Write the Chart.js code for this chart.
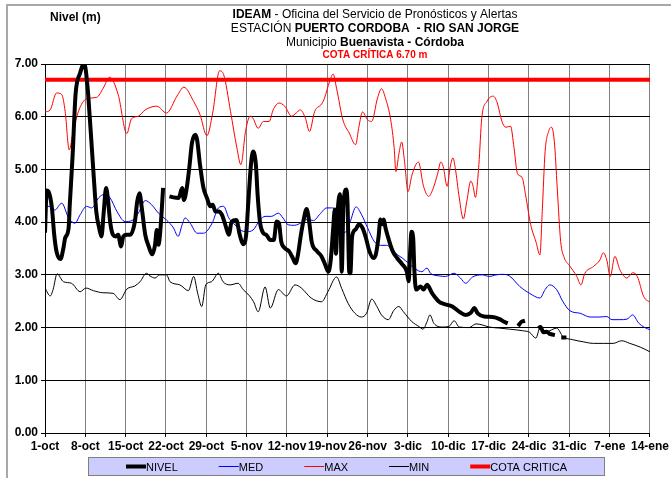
<!DOCTYPE html>
<html>
<head>
<meta charset="utf-8">
<script src="https://cdn.jsdelivr.net/npm/chart.js@4/dist/chart.umd.min.js"></script>
<style>
  html, body { margin: 0; padding: 0; background: #fff; }
  canvas { display: block; }
</style>
</head>
<body>
<canvas id="grafica" width="671" height="478"></canvas>
<script>
// Etiquetas semanales del eje X (día 0 = 1-oct)
const fechas = ['1-oct','8-oct','15-oct','22-oct','29-oct','5-nov','12-nov','19-nov','26-nov',
                '3-dic','10-dic','17-dic','24-dic','31-dic','7-ene','14-ene'];

// Cota crítica de la estación (m)
const cotaCritica = 6.70;

// Nivel observado [día, m]; null = sin registro
const nivel = [
  [0,3.80],[0.3,4.60],[0.6,4.58],[1.2,4.27],[1.6,3.76],[2.0,3.44],[2.7,3.30],[3.2,3.51],[3.5,3.70],
  [4.1,3.89],[4.3,4.33],[4.8,5.28],[5.3,6.42],[6.1,6.83],[6.7,6.99],[6.95,6.96],[7.4,6.54],[7.9,5.78],
  [8.4,4.96],[8.9,4.20],[9.4,3.89],[9.8,3.73],[10.2,4.20],[10.6,4.65],[10.9,4.46],[11.3,4.01],
  [11.8,3.76],[12.3,3.73],[12.7,3.76],[13.2,3.54],[13.6,3.73],[14.2,3.76],[14.8,3.76],[15.6,4.01],
  [16.0,4.39],[16.4,4.55],[16.8,4.27],[17.4,3.76],[18.0,3.54],[18.6,3.39],[19.1,3.57],[19.4,3.85],
  [19.7,3.57],[20.0,3.82],[20.5,4.65],[21.0,null],
  [21.6,4.49],[22.3,4.47],[23.2,4.46],[23.8,4.65],[24.1,4.42],[24.6,4.65],[25.1,5.09],[25.5,5.50],
  [26.1,5.66],[26.4,5.56],[26.9,5.09],[27.5,4.65],[28.1,4.46],[28.7,4.30],[29.1,4.33],[29.6,4.20],
  [30.1,4.20],[30.7,4.14],[31.3,3.95],[31.9,3.76],[32.4,4.01],[33.2,4.04],[33.8,3.76],[34.4,3.58],
  [34.9,3.75],[35.3,4.40],[35.7,5.03],[36.1,5.34],[36.6,5.09],[36.9,4.52],[37.3,4.01],[37.9,3.79],
  [38.4,3.76],[39.1,3.66],[39.7,3.66],[40.2,4.01],[40.6,3.98],[41.0,3.63],[41.6,3.51],[42.4,3.44],
  [43.0,3.32],[43.5,3.22],[43.9,3.38],[44.4,3.75],[44.9,4.05],[45.4,4.25],[45.8,4.05],[46.3,3.62],
  [47.2,3.45],[48.0,3.35],[48.6,3.20],[49.2,3.06],[49.6,3.29],[50.0,3.86],[50.3,4.24],[50.5,3.40],
  [50.8,4.20],[51.2,4.53],[51.5,3.06],[51.8,4.33],[52.3,4.62],[52.5,4.37],[52.8,3.06],[53.0,3.03],
  [53.3,3.73],[53.9,3.86],[54.5,3.96],[55.1,3.89],[55.7,3.70],[56.3,3.45],[57.0,3.32],[57.4,3.38],
  [57.9,3.73],[58.2,4.05],[58.6,3.96],[58.8,4.05],[59.1,3.89],[59.5,3.73],[60.3,3.46],[61.1,3.32],
  [62.0,3.20],[62.8,3.06],[63.1,2.88],[63.4,3.50],[63.6,3.82],[63.9,3.70],[64.1,3.10],[64.4,2.72],
  [65.2,2.78],[65.7,2.72],[66.3,2.81],[67.2,2.65],[68.4,2.49],[69.2,2.45],[70.7,2.40],[71.9,2.30],
  [73.0,2.24],[73.9,2.28],[74.5,2.37],[75.1,2.27],[76.2,2.21],[77.7,2.20],[78.9,2.16],[79.7,2.11],
  [80.3,2.08],[81.0,null],
  [82.1,2.03],[82.7,2.11],[83.3,2.13],[84.5,null],
  [85.6,1.99],[86.0,2.01],[86.5,1.91],[87.1,1.92],[87.6,1.88],[88.5,1.86],[89.0,null],
  [89.6,1.81],[90.5,1.81]
];

// Nivel medio histórico [día, m]
const med = [
  [0,4.30],[0.9,4.30],[1.7,4.23],[2.9,4.36],[4.1,4.08],[5.2,3.98],[6.1,4.14],[7.2,4.30],[8.1,4.27],
  [9.3,4.46],[10.4,4.53],[11.3,4.46],[12.5,4.20],[13.9,4.01],[15.1,4.03],[16.2,4.17],[17.4,4.41],
  [18.5,4.33],[19.7,4.17],[21.1,4.04],[22.3,3.89],[23.1,3.73],[23.8,3.95],[24.3,4.08],[25.2,3.98],
  [26.4,3.79],[27.5,3.79],[29.0,3.98],[30.1,4.27],[31.0,4.30],[31.9,4.08],[32.7,3.98],[33.9,3.85],
  [35.0,3.82],[36.1,3.85],[37.3,4.04],[38.2,4.11],[39.3,4.11],[40.5,4.17],[41.3,4.08],[42.2,3.95],
  [43.3,3.94],[44.5,3.99],[45.5,4.05],[46.6,4.03],[47.7,4.15],[48.9,4.27],[49.7,4.27],[50.9,4.18],
  [52.0,3.80],[52.9,3.99],[54.0,4.29],[54.9,4.15],[56.0,3.89],[57.1,3.64],[58.2,3.56],[59.3,3.56],
  [60.8,3.41],[62.0,3.32],[63.1,3.22],[64.3,3.11],[65.4,3.06],[66.3,3.13],[66.9,3.03],[68.4,2.98],
  [69.5,2.97],[71.0,3.03],[72.1,2.94],[73.0,2.84],[74.2,2.96],[75.9,3.00],[77.1,2.97],[78.3,3.00],
  [79.4,3.01],[80.6,2.98],[82.4,2.78],[84.1,2.65],[85.9,2.56],[86.8,2.72],[87.6,2.81],[88.8,2.72],
  [89.9,2.49],[91.1,2.32],[92.9,2.27],[94.6,2.20],[96.3,2.20],[97.5,2.21],[98.4,2.15],[99.8,2.15],
  [101.0,2.16],[102.0,2.24],[103.0,2.09],[104.1,2.00],[105.0,1.96]
];

// Nivel máximo histórico [día, m]
const max = [
  [0,6.09],[0.9,6.13],[2.0,6.45],[2.9,6.42],[3.5,6.10],[4.2,5.37],[4.9,5.72],[5.8,6.10],[7.2,6.34],
  [9.0,6.37],[10.1,6.54],[11.2,6.75],[12.7,6.42],[14.2,5.68],[15.0,5.96],[16.2,6.01],[17.4,6.13],
  [19.4,6.20],[21.1,6.07],[22.9,6.39],[24.1,6.56],[25.8,6.29],[26.9,6.04],[28.1,5.64],[29.1,6.07],
  [30.3,6.87],[31.0,6.80],[32.2,6.10],[33.3,5.41],[34.0,5.09],[34.8,5.72],[35.6,6.01],[36.1,5.97],
  [37.0,5.78],[37.9,5.91],[38.9,5.91],[39.6,6.13],[40.6,6.26],[41.6,6.20],[42.8,6.01],[43.6,6.07],
  [44.3,6.13],[45.2,5.97],[45.9,5.72],[46.8,6.10],[48.0,6.24],[48.5,6.35],[49.4,6.67],[50.0,6.81],
  [50.6,6.54],[51.7,5.94],[52.8,5.69],[53.9,5.47],[54.5,5.82],[55.1,6.09],[56.0,5.94],[56.7,5.91],
  [57.7,6.35],[58.4,6.53],[59.1,6.35],[60.0,5.94],[60.6,5.41],[60.9,4.96],[61.4,5.28],[61.9,5.52],
  [62.4,5.15],[63.0,4.58],[63.7,4.90],[64.8,5.14],[65.7,4.68],[66.6,4.49],[67.4,4.65],[68.1,4.90],
  [68.7,5.14],[69.1,5.06],[69.8,4.68],[70.3,5.03],[70.8,5.22],[71.2,5.03],[71.9,4.46],[72.6,4.06],
  [73.2,4.39],[73.9,4.78],[74.3,4.68],[74.7,4.47],[75.3,5.09],[75.8,5.97],[76.7,6.29],[77.8,6.39],
  [78.5,6.26],[79.3,5.91],[80.0,5.80],[80.8,5.82],[81.4,5.41],[82.0,4.92],[82.8,4.85],[83.4,4.52],
  [84.3,3.95],[85.2,3.63],[85.9,3.38],[86.3,4.20],[86.8,5.34],[87.4,5.72],[87.9,5.80],[88.4,5.53],
  [88.9,4.65],[89.5,3.63],[90.1,3.33],[91.0,3.18],[92.3,2.97],[93.0,2.81],[93.7,3.03],[95.2,3.16],
  [96.3,3.28],[96.9,3.42],[97.5,3.28],[98.1,2.97],[98.9,3.35],[99.8,3.09],[101.0,2.94],[102.0,3.04],
  [102.8,2.97],[103.9,2.59],[105.0,2.48]
];

// Nivel mínimo histórico [día, m]
const min = [
  [0,2.75],[0.9,2.60],[1.4,2.72],[2.1,3.02],[3.2,2.87],[4.6,2.84],[6.1,2.68],[7.1,2.75],[8.4,2.70],
  [10.1,2.66],[11.8,2.65],[13.0,2.53],[14.2,2.73],[15.6,2.79],[16.5,2.87],[17.6,3.03],[18.2,2.98],
  [19.1,2.94],[19.9,3.00],[21.1,3.00],[21.7,2.87],[23.4,2.81],[24.9,2.70],[25.8,2.97],[26.5,2.65],
  [27.2,2.40],[27.9,2.81],[28.9,2.87],[30.1,3.03],[30.9,2.87],[32.1,2.81],[33.5,2.84],[34.4,2.72],
  [35.5,2.60],[36.2,2.49],[37.0,2.30],[38.2,2.77],[39.1,2.37],[40.5,2.72],[41.9,2.60],[43.4,2.81],
  [44.5,2.75],[46.2,2.56],[48.0,2.49],[49.1,2.68],[50.6,2.96],[51.5,2.74],[52.6,2.46],[53.8,2.27],
  [54.9,2.20],[55.8,2.27],[56.7,2.54],[57.6,2.40],[58.4,2.24],[59.6,2.15],[60.5,2.32],[61.4,2.40],
  [62.2,2.30],[63.7,2.11],[64.9,2.02],[65.6,1.97],[66.3,2.11],[66.8,2.24],[67.5,2.08],[68.9,2.01],
  [70.1,2.02],[71.0,2.13],[71.9,2.01],[73.6,2.00],[74.8,2.07],[75.9,2.05],[77.1,2.01],[78.9,1.99],
  [80.6,1.97],[82.9,1.94],[84.1,1.91],[85.2,1.80],[85.9,1.99],[87.0,1.92],[88.8,1.99],[89.9,1.83],
  [91.6,1.77],[93.4,1.73],[95.2,1.70],[96.9,1.70],[98.6,1.70],[100.1,1.75],[101.5,1.70],[103.3,1.63],
  [105.0,1.54]
];

const FAM = '"Liberation Sans", Arial, Helvetica, sans-serif';
const puntos = serie => serie.map(([x, y]) => ({ x, y }));
const DIAS = (fechas.length - 1) * 7;

// Encabezado: fondo, marco y textos con tramos en negrita
const encabezado = {
  id: 'encabezado',
  beforeDraw(chart) {
    const ctx = chart.ctx;
    ctx.save();
    ctx.fillStyle = '#fff';
    ctx.fillRect(0, 0, chart.width, chart.height);
    ctx.strokeStyle = '#a8a8a8';
    ctx.lineWidth = 2;
    ctx.beginPath();
    ctx.moveTo(7, chart.height);
    ctx.lineTo(7, 5);
    ctx.lineTo(chart.width, 5);
    ctx.stroke();
    ctx.restore();
  },
  afterDraw(chart) {
    const ctx = chart.ctx;
    const lineas = [
      { y: 15, size: 12, color: '#000', segs: [['IDEAM', true], [' - Oficina del Servicio de Pronósticos y Alertas', false]] },
      { y: 29, size: 12, color: '#000', segs: [['ESTACIÓN ', false], ['PUERTO CORDOBA  - RIO SAN JORGE', true]] },
      { y: 43, size: 12, color: '#000', segs: [['Municipio ', false], ['Buenavista - Córdoba', true]] },
      { y: 55, size: 10, color: '#ff0000', segs: [['COTA CRÍTICA ' + cotaCritica.toFixed(2) + ' m', true]] }
    ];
    const cx = 375;
    ctx.save();
    ctx.textBaseline = 'middle';
    ctx.textAlign = 'left';
    lineas.forEach(l => {
      const fuentes = l.segs.map(([, b]) => (b ? 'bold ' : '') + l.size + 'px ' + FAM);
      const anchos = l.segs.map(([t], i) => { ctx.font = fuentes[i]; return ctx.measureText(t).width; });
      let x = cx - anchos.reduce((a, b) => a + b, 0) / 2;
      ctx.fillStyle = l.color;
      l.segs.forEach(([t], i) => { ctx.font = fuentes[i]; ctx.fillText(t, x, l.y); x += anchos[i]; });
    });
    ctx.font = 'bold 12px ' + FAM;
    ctx.fillStyle = '#000';
    ctx.fillText('Nivel (m)', 50, 18);
    ctx.restore();
  }
};

// Leyenda inferior en recuadro lila
const leyenda = {
  id: 'leyenda',
  afterDraw(chart) {
    const ctx = chart.ctx;
    const caja = { x: 88, y: 457, w: 517, h: 19 };
    ctx.save();
    ctx.fillStyle = '#ccccff';
    ctx.fillRect(caja.x, caja.y, caja.w, caja.h);
    ctx.strokeStyle = '#7f7f7f';
    ctx.lineWidth = 1;
    ctx.strokeRect(caja.x + 0.5, caja.y + 0.5, caja.w - 1, caja.h - 1);
    ctx.font = '11px ' + FAM;
    ctx.textBaseline = 'middle';
    ctx.textAlign = 'left';
    const muestra = 20, sep = 41;
    const items = chart.data.datasets.map(ds => ({
      label: ds.label, color: ds.borderColor, width: ds.borderWidth,
      tw: ctx.measureText(ds.label).width
    }));
    const total = items.reduce((a, it) => a + muestra + it.tw, 0) + sep * (items.length - 1);
    let x = caja.x + caja.w / 2 - total / 2;
    const yc = caja.y + caja.h / 2;
    items.forEach(it => {
      ctx.strokeStyle = it.color;
      ctx.lineWidth = it.width;
      ctx.beginPath();
      ctx.moveTo(x, yc);
      ctx.lineTo(x + muestra, yc);
      ctx.stroke();
      ctx.fillStyle = '#000';
      ctx.fillText(it.label, x + muestra, yc + 1);
      x += muestra + it.tw + sep;
    });
    ctx.restore();
  }
};

const comun = { pointRadius: 0, pointHoverRadius: 0, fill: false, cubicInterpolationMode: 'monotone', spanGaps: false };

new Chart(document.getElementById('grafica'), {
  type: 'line',
  data: {
    datasets: [
      { ...comun, label: 'NIVEL', data: puntos(nivel), borderColor: '#000000', borderWidth: 4, order: 0 },
      { ...comun, label: 'MED', data: puntos(med), borderColor: '#0000ff', borderWidth: 1, order: 2 },
      { ...comun, label: 'MAX', data: puntos(max), borderColor: '#ff0000', borderWidth: 1, order: 3 },
      { ...comun, label: 'MIN', data: puntos(min), borderColor: '#000000', borderWidth: 1, order: 4 },
      { ...comun, label: 'COTA CRITICA', data: [{ x: 0, y: cotaCritica }, { x: DIAS, y: cotaCritica }],
        borderColor: '#ff0000', borderWidth: 4, order: 1 }
    ]
  },
  options: {
    responsive: false,
    devicePixelRatio: 1,
    animation: false,
    events: [],
    layout: { padding: { top: 64, left: 0, right: 20, bottom: 23 } },
    plugins: { legend: { display: false }, title: { display: false }, tooltip: { enabled: false } },
    scales: {
      x: {
        type: 'linear', min: 0, max: DIAS,
        afterFit: s => { s.height = 22; },
        ticks: {
          stepSize: 7, autoSkip: false, maxRotation: 0, minRotation: 0, padding: 2,
          color: '#000', font: { family: FAM, size: 12, weight: 'bold' },
          callback: v => fechas[Math.round(v / 7)]
        },
        grid: { color: '#808080', lineWidth: 1, tickColor: '#000', tickLength: 4 },
        border: { color: '#000', width: 1 }
      },
      y: {
        min: 0, max: 7,
        afterFit: s => { s.width = 45; },
        ticks: {
          stepSize: 1, padding: 3, color: '#000',
          font: { family: FAM, size: 12, weight: 'bold' },
          callback: v => v.toFixed(2)
        },
        grid: { color: '#000', lineWidth: 1, tickColor: '#000', tickLength: 4 },
        border: { color: '#000', width: 1 }
      }
    }
  },
  plugins: [encabezado, leyenda]
});
</script>
</body>
</html>
